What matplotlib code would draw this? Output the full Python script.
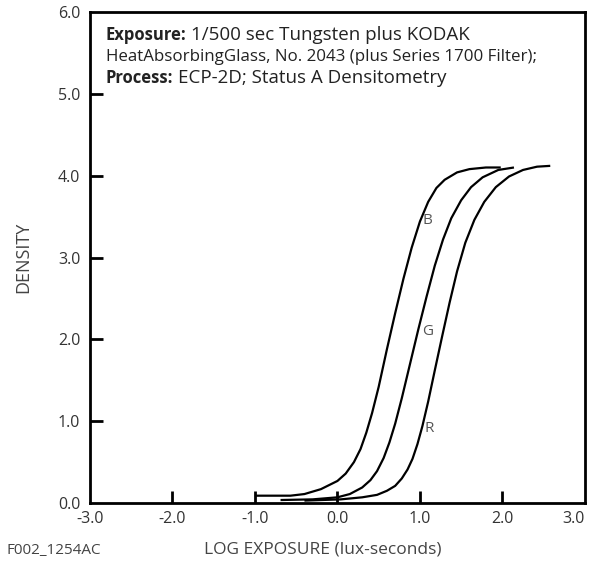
import matplotlib
matplotlib.use("Agg")
import matplotlib.pyplot as plt

plt.rcParams["font.family"] = ["Open Sans", "DejaVu Sans"]

b_x = [-1.0, -0.57, -0.4, -0.2, 0.0, 0.1, 0.2, 0.28, 0.35, 0.42, 0.5, 0.6, 0.7, 0.8, 0.9,
       1.0, 1.1, 1.2, 1.3, 1.45, 1.6, 1.8, 1.98]
b_y = [0.09, 0.09, 0.11, 0.17, 0.27, 0.36, 0.50, 0.66, 0.86, 1.10, 1.42, 1.88, 2.32, 2.74, 3.12,
       3.44, 3.68, 3.85, 3.95, 4.04, 4.08, 4.10, 4.10]

g_x = [-0.69, -0.3, 0.0, 0.15, 0.3, 0.4, 0.48, 0.56, 0.63, 0.7, 0.78, 0.88, 0.98, 1.08,
       1.18, 1.28, 1.38, 1.5, 1.62, 1.76, 1.95, 2.14]
g_y = [0.037, 0.045, 0.07, 0.11, 0.19, 0.28, 0.39, 0.55, 0.74, 0.97, 1.28, 1.70, 2.12, 2.52,
       2.90, 3.22, 3.48, 3.70, 3.86, 3.98, 4.07, 4.10]

r_x = [-0.4, 0.04, 0.3, 0.48, 0.6, 0.7, 0.78, 0.85, 0.91, 0.97, 1.03, 1.1, 1.18, 1.27,
       1.36, 1.45, 1.55, 1.66, 1.78, 1.92, 2.08, 2.25, 2.42, 2.58]
r_y = [0.03, 0.045, 0.07, 0.10, 0.15, 0.21, 0.30, 0.41, 0.54, 0.72, 0.94, 1.24, 1.62, 2.04,
       2.45, 2.83, 3.18, 3.46, 3.68, 3.86, 3.99, 4.07, 4.11, 4.12]

curve_labels = ["B", "G", "R"]
label_pos = [(1.03, 3.45), (1.03, 2.10), (1.06, 0.91)]

x_ticks = [-3, -2, -1, 0, 1, 2, 3]
y_ticks = [0, 1, 2, 3, 4, 5, 6]

fig = plt.figure(figsize=(5.92, 5.71), dpi=100)
ax = fig.add_axes([0.152, 0.119, 0.836, 0.860])

for xs, ys in [(b_x, b_y), (g_x, g_y), (r_x, r_y)]:
    ax.plot(xs, ys, color="black", lw=1.6, solid_joinstyle="round", solid_capstyle="butt")

for lab, (lx, ly) in zip(curve_labels, label_pos):
    ax.text(lx, ly, lab, fontsize=11, color="#555555", va="center", ha="left")

ax.set_xlim(-3, 3)
ax.set_ylim(0, 6)
ax.set_xticks(x_ticks)
ax.set_yticks(y_ticks)
ax.set_xticklabels(["%.1f" % v for v in x_ticks])
ax.set_yticklabels(["%.1f" % v for v in y_ticks])
ax.tick_params(direction="in", length=9, width=2, color="black",
               labelsize=11.5, labelcolor="#333333")
ax.tick_params(axis="x", pad=6)
ax.tick_params(axis="y", pad=7)
# no tick marks at the frame corners
for t in ax.xaxis.get_major_ticks()[::6]:
    t.tick1line.set_visible(False)
for t in [ax.yaxis.get_major_ticks()[0], ax.yaxis.get_major_ticks()[6]]:
    t.tick1line.set_visible(False)
ax.get_xticklabels()[-1].set_horizontalalignment("right")

for s in ax.spines.values():
    s.set_linewidth(2)

# header text
ax.text(-2.81, 5.72, "Exposure:", fontsize=12, fontweight="bold", va="center", color="#222222")
ax.text(-1.78, 5.72, "1/500 sec Tungsten plus KODAK", fontsize=13.5, va="center", color="#222222")
ax.text(-2.81, 5.45, "HeatAbsorbingGlass, No. 2043 (plus Series 1700 Filter);", fontsize=12.2,
        va="center", color="#222222")
ax.text(-2.81, 5.195, "Process:", fontsize=12, fontweight="bold", va="center", color="#222222")
ax.text(-1.93, 5.195, "ECP-2D; Status A Densitometry", fontsize=13.5, va="center", color="#222222")

fig.text(23 / 592, 1 - 257 / 571, "DENSITY", rotation=90, ha="center", va="center",
         fontsize=13, color="#444444")
fig.text(323 / 592, 1 - 550 / 571, "LOG EXPOSURE (lux-seconds)", ha="center", va="center",
         fontsize=12.5, color="#444444")
fig.text(7 / 592, 1 - 550 / 571, "F002_1254AC", ha="left", va="center",
         fontsize=11, color="#444444")

fig.savefig("out.png", dpi=100)
